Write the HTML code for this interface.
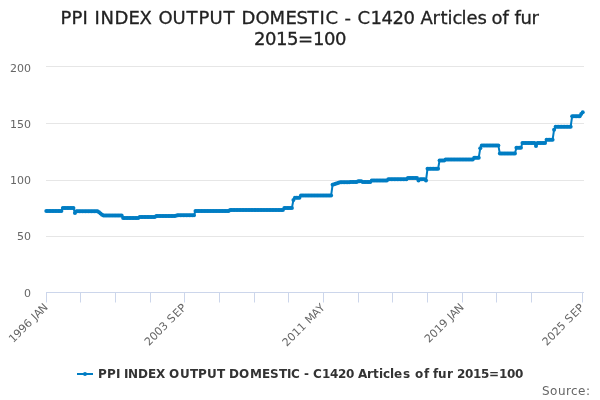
<!DOCTYPE html>
<html><head><meta charset="utf-8"><style>
html,body{margin:0;padding:0;background:#fff;}
svg{display:block;will-change:transform;font-family:"DejaVu Sans","Liberation Sans",sans-serif;}
</style></head><body>
<svg width="600" height="400" viewBox="0 0 600 400">
<rect width="600" height="400" fill="#ffffff"/>
<g stroke="#e6e6e6" stroke-width="1" fill="none"><path d="M 46 66.5 L 584 66.5"/><path d="M 46 123.5 L 584 123.5"/><path d="M 46 180.5 L 584 180.5"/><path d="M 46 236.5 L 584 236.5"/></g>
<g stroke="#ccd6eb" stroke-width="1" fill="none"><path d="M 46 292.5 L 584 292.5"/><path d="M 46.5 292.5 L 46.5 302.5"/><path d="M 80.5 292.5 L 80.5 302.5"/><path d="M 115.5 292.5 L 115.5 302.5"/><path d="M 150.5 292.5 L 150.5 302.5"/><path d="M 184.5 292.5 L 184.5 302.5"/><path d="M 219.5 292.5 L 219.5 302.5"/><path d="M 254.5 292.5 L 254.5 302.5"/><path d="M 288.5 292.5 L 288.5 302.5"/><path d="M 323.5 292.5 L 323.5 302.5"/><path d="M 358.5 292.5 L 358.5 302.5"/><path d="M 392.5 292.5 L 392.5 302.5"/><path d="M 427.5 292.5 L 427.5 302.5"/><path d="M 462.5 292.5 L 462.5 302.5"/><path d="M 496.5 292.5 L 496.5 302.5"/><path d="M 531.5 292.5 L 531.5 302.5"/><path d="M 582.5 292.5 L 582.5 302.5"/></g>
<g font-size="18" fill="#222222" stroke="#222222" stroke-width="0.3"><text x="60.5 71.5 82.5 88.5 94.5 100.5 114.5 128.5 139.5 152.5 158.5 172.5 186.5 198.5 209.5 223.5 235.5 241.5 255.5 269.5 285.5 296.5 307.5 319.5 325.5 338.5 344.5 351.5 357.5 370.5 381.5 392.5 403.5 414.5 420.5 432.5 440.5 447.5 452.5 461.5 466.5 477.5 485.5 491.5 502.5 508.5 514.5 520.5 531.5" y="24" >PPI INDEX OUTPUT DOMESTIC - C1420 Articles of fur</text><text x="254 265 276 287 298 313 324 335" y="45" >2015=100</text></g>
<g font-size="11" fill="#666666"><text x="24" y="297" >0</text><text x="17 24" y="240" >50</text><text x="10 17 24" y="184" >100</text><text x="10 17 24" y="128" >150</text><text x="10 17 24" y="72" >200</text></g>
<g font-size="11" fill="#666666"><text x="-50 -43 -36 -29 -22 -18 -15 -8" y="0" transform="translate(48.50 308.00) rotate(-45)">1996 JAN</text><text x="-54 -47 -40 -33 -26 -22 -14 -7" y="0" transform="translate(187.13 308.00) rotate(-45)">2003 SEP</text><text x="-55 -48 -41 -34 -27 -23 -14 -7" y="0" transform="translate(325.75 308.00) rotate(-45)">2011 MAY</text><text x="-50 -43 -36 -29 -22 -18 -15 -8" y="0" transform="translate(464.38 308.00) rotate(-45)">2019 JAN</text><text x="-54 -47 -40 -33 -26 -22 -14 -7" y="0" transform="translate(584.92 308.00) rotate(-45)">2025 SEP</text></g>
<path d="M 46.30 210.90 L 47.81 210.90 L 49.31 210.90 L 50.82 210.90 L 52.33 210.90 L 53.83 210.90 L 55.34 210.90 L 56.85 210.90 L 58.35 210.90 L 59.86 210.90 L 61.37 210.90 L 62.87 208.00 L 64.38 208.00 L 65.89 208.00 L 67.40 208.00 L 68.90 208.00 L 70.41 208.00 L 71.92 208.00 L 73.42 208.00 L 74.93 213.00 L 76.44 211.30 L 77.94 211.30 L 79.45 211.30 L 80.96 211.30 L 82.46 211.30 L 83.97 211.30 L 85.48 211.30 L 86.98 211.30 L 88.49 211.30 L 90.00 211.30 L 91.50 211.30 L 93.01 211.30 L 94.52 211.30 L 96.02 211.30 L 97.53 211.30 L 99.04 212.30 L 100.54 213.50 L 102.05 214.70 L 103.56 215.60 L 105.07 215.60 L 106.57 215.60 L 108.08 215.60 L 109.59 215.60 L 111.09 215.60 L 112.60 215.60 L 114.11 215.60 L 115.61 215.60 L 117.12 215.60 L 118.63 215.60 L 120.13 215.60 L 121.64 215.60 L 123.15 218.00 L 124.65 218.00 L 126.16 218.00 L 127.67 218.00 L 129.17 218.00 L 130.68 218.00 L 132.19 218.00 L 133.69 218.00 L 135.20 218.00 L 136.71 218.00 L 138.21 218.00 L 139.72 217.00 L 141.23 217.00 L 142.74 217.00 L 144.24 217.00 L 145.75 217.00 L 147.26 217.00 L 148.76 217.00 L 150.27 217.00 L 151.78 217.00 L 153.28 217.00 L 154.79 217.00 L 156.30 216.00 L 157.80 216.00 L 159.31 216.00 L 160.82 216.00 L 162.32 216.00 L 163.83 216.00 L 165.34 216.00 L 166.84 216.00 L 168.35 216.00 L 169.86 216.00 L 171.36 216.00 L 172.87 216.00 L 174.38 216.00 L 175.88 215.80 L 177.39 215.20 L 178.90 215.20 L 180.41 215.20 L 181.91 215.20 L 183.42 215.20 L 184.93 215.20 L 186.43 215.20 L 187.94 215.20 L 189.45 215.20 L 190.95 215.20 L 192.46 215.20 L 193.97 215.20 L 195.47 211.10 L 196.98 211.10 L 198.49 211.10 L 199.99 211.10 L 201.50 211.10 L 203.01 211.10 L 204.51 211.10 L 206.02 211.10 L 207.53 211.10 L 209.03 211.10 L 210.54 211.10 L 212.05 211.10 L 213.55 211.10 L 215.06 211.10 L 216.57 211.10 L 218.08 211.10 L 219.58 211.10 L 221.09 211.10 L 222.60 211.10 L 224.10 211.10 L 225.61 211.10 L 227.12 211.10 L 228.62 211.10 L 230.13 209.90 L 231.64 209.90 L 233.14 209.90 L 234.65 209.90 L 236.16 209.90 L 237.66 209.90 L 239.17 209.90 L 240.68 209.90 L 242.18 209.90 L 243.69 209.90 L 245.20 209.90 L 246.70 209.90 L 248.21 209.90 L 249.72 209.90 L 251.22 209.90 L 252.73 209.90 L 254.24 209.90 L 255.75 209.90 L 257.25 209.90 L 258.76 209.90 L 260.27 209.90 L 261.77 209.90 L 263.28 209.90 L 264.79 209.90 L 266.29 209.90 L 267.80 209.90 L 269.31 209.90 L 270.81 209.90 L 272.32 209.90 L 273.83 209.90 L 275.33 209.90 L 276.84 209.90 L 278.35 209.90 L 279.85 209.90 L 281.36 209.90 L 282.87 209.90 L 284.37 207.90 L 285.88 207.90 L 287.39 207.90 L 288.89 207.90 L 290.40 207.90 L 291.91 207.90 L 293.42 200.00 L 294.92 197.80 L 296.43 197.80 L 297.94 197.80 L 299.44 197.80 L 300.95 195.60 L 302.46 195.60 L 303.96 195.60 L 305.47 195.60 L 306.98 195.60 L 308.48 195.60 L 309.99 195.60 L 311.50 195.60 L 313.00 195.60 L 314.51 195.60 L 316.02 195.60 L 317.52 195.60 L 319.03 195.60 L 320.54 195.60 L 322.04 195.60 L 323.55 195.60 L 325.06 195.60 L 326.56 195.60 L 328.07 195.60 L 329.58 195.60 L 331.09 195.60 L 332.59 184.80 L 334.10 184.20 L 335.61 183.72 L 337.11 183.25 L 338.62 182.78 L 340.13 182.30 L 341.63 182.30 L 343.14 182.27 L 344.65 182.24 L 346.15 182.21 L 347.66 182.18 L 349.17 182.15 L 350.67 182.12 L 352.18 182.09 L 353.69 182.06 L 355.19 182.03 L 356.70 182.00 L 358.21 181.20 L 359.71 181.20 L 361.22 181.20 L 362.73 182.00 L 364.23 182.00 L 365.74 182.00 L 367.25 182.00 L 368.76 182.00 L 370.26 182.00 L 371.77 180.50 L 373.28 180.50 L 374.78 180.50 L 376.29 180.50 L 377.80 180.50 L 379.30 180.50 L 380.81 180.50 L 382.32 180.50 L 383.82 180.50 L 385.33 180.50 L 386.84 180.50 L 388.34 179.30 L 389.85 179.30 L 391.36 179.30 L 392.86 179.30 L 394.37 179.30 L 395.88 179.30 L 397.38 179.30 L 398.89 179.30 L 400.40 179.30 L 401.90 179.30 L 403.41 179.30 L 404.92 179.30 L 406.43 179.30 L 407.93 177.90 L 409.44 177.90 L 410.95 177.90 L 412.45 177.90 L 413.96 177.90 L 415.47 177.90 L 416.97 177.90 L 418.48 180.50 L 419.99 179.20 L 421.49 179.20 L 423.00 179.20 L 424.51 179.20 L 426.01 180.50 L 427.52 168.70 L 429.03 168.70 L 430.53 168.70 L 432.04 168.70 L 433.55 168.70 L 435.05 168.70 L 436.56 168.70 L 438.07 168.70 L 439.57 160.50 L 441.08 160.50 L 442.59 160.50 L 444.10 160.50 L 445.60 159.50 L 447.11 159.50 L 448.62 159.50 L 450.12 159.50 L 451.63 159.50 L 453.14 159.50 L 454.64 159.50 L 456.15 159.50 L 457.66 159.50 L 459.16 159.50 L 460.67 159.50 L 462.18 159.50 L 463.68 159.50 L 465.19 159.50 L 466.70 159.50 L 468.20 159.50 L 469.71 159.50 L 471.22 159.50 L 472.72 159.50 L 474.23 157.70 L 475.74 157.70 L 477.24 157.70 L 478.75 157.70 L 480.26 148.20 L 481.77 145.40 L 483.27 145.40 L 484.78 145.40 L 486.29 145.40 L 487.79 145.40 L 489.30 145.40 L 490.81 145.40 L 492.31 145.40 L 493.82 145.40 L 495.33 145.40 L 496.83 145.40 L 498.34 145.40 L 499.85 153.60 L 501.35 153.60 L 502.86 153.60 L 504.37 153.60 L 505.87 153.60 L 507.38 153.60 L 508.89 153.60 L 510.39 153.60 L 511.90 153.60 L 513.41 153.60 L 514.91 153.60 L 516.42 147.80 L 517.93 147.80 L 519.44 147.80 L 520.94 147.80 L 522.45 142.90 L 523.96 142.90 L 525.46 142.90 L 526.97 142.90 L 528.48 142.90 L 529.98 142.90 L 531.49 142.90 L 533.00 142.90 L 534.50 142.90 L 536.01 146.10 L 537.52 142.90 L 539.02 142.90 L 540.53 142.90 L 542.04 142.90 L 543.54 142.90 L 545.05 142.90 L 546.56 139.80 L 548.06 139.80 L 549.57 139.80 L 551.08 139.80 L 552.58 139.80 L 554.09 129.70 L 555.60 126.70 L 557.11 126.70 L 558.61 126.70 L 560.12 126.70 L 561.63 126.70 L 563.13 126.70 L 564.64 126.70 L 566.15 126.70 L 567.65 126.70 L 569.16 126.70 L 570.67 126.70 L 572.17 116.20 L 573.68 116.20 L 575.19 116.20 L 576.69 116.20 L 578.20 116.20 L 579.71 116.20 L 581.21 114.00 L 582.72 112.20" fill="none" stroke="#007dc3" stroke-width="2" stroke-linejoin="round" stroke-linecap="round"/>
<g fill="#007dc3"><circle cx="46.30" cy="210.90" r="2.0"/><circle cx="47.81" cy="210.90" r="2.0"/><circle cx="49.31" cy="210.90" r="2.0"/><circle cx="50.82" cy="210.90" r="2.0"/><circle cx="52.33" cy="210.90" r="2.0"/><circle cx="53.83" cy="210.90" r="2.0"/><circle cx="55.34" cy="210.90" r="2.0"/><circle cx="56.85" cy="210.90" r="2.0"/><circle cx="58.35" cy="210.90" r="2.0"/><circle cx="59.86" cy="210.90" r="2.0"/><circle cx="61.37" cy="210.90" r="2.0"/><circle cx="62.87" cy="208.00" r="2.0"/><circle cx="64.38" cy="208.00" r="2.0"/><circle cx="65.89" cy="208.00" r="2.0"/><circle cx="67.40" cy="208.00" r="2.0"/><circle cx="68.90" cy="208.00" r="2.0"/><circle cx="70.41" cy="208.00" r="2.0"/><circle cx="71.92" cy="208.00" r="2.0"/><circle cx="73.42" cy="208.00" r="2.0"/><circle cx="74.93" cy="213.00" r="2.0"/><circle cx="76.44" cy="211.30" r="2.0"/><circle cx="77.94" cy="211.30" r="2.0"/><circle cx="79.45" cy="211.30" r="2.0"/><circle cx="80.96" cy="211.30" r="2.0"/><circle cx="82.46" cy="211.30" r="2.0"/><circle cx="83.97" cy="211.30" r="2.0"/><circle cx="85.48" cy="211.30" r="2.0"/><circle cx="86.98" cy="211.30" r="2.0"/><circle cx="88.49" cy="211.30" r="2.0"/><circle cx="90.00" cy="211.30" r="2.0"/><circle cx="91.50" cy="211.30" r="2.0"/><circle cx="93.01" cy="211.30" r="2.0"/><circle cx="94.52" cy="211.30" r="2.0"/><circle cx="96.02" cy="211.30" r="2.0"/><circle cx="97.53" cy="211.30" r="2.0"/><circle cx="99.04" cy="212.30" r="2.0"/><circle cx="100.54" cy="213.50" r="2.0"/><circle cx="102.05" cy="214.70" r="2.0"/><circle cx="103.56" cy="215.60" r="2.0"/><circle cx="105.07" cy="215.60" r="2.0"/><circle cx="106.57" cy="215.60" r="2.0"/><circle cx="108.08" cy="215.60" r="2.0"/><circle cx="109.59" cy="215.60" r="2.0"/><circle cx="111.09" cy="215.60" r="2.0"/><circle cx="112.60" cy="215.60" r="2.0"/><circle cx="114.11" cy="215.60" r="2.0"/><circle cx="115.61" cy="215.60" r="2.0"/><circle cx="117.12" cy="215.60" r="2.0"/><circle cx="118.63" cy="215.60" r="2.0"/><circle cx="120.13" cy="215.60" r="2.0"/><circle cx="121.64" cy="215.60" r="2.0"/><circle cx="123.15" cy="218.00" r="2.0"/><circle cx="124.65" cy="218.00" r="2.0"/><circle cx="126.16" cy="218.00" r="2.0"/><circle cx="127.67" cy="218.00" r="2.0"/><circle cx="129.17" cy="218.00" r="2.0"/><circle cx="130.68" cy="218.00" r="2.0"/><circle cx="132.19" cy="218.00" r="2.0"/><circle cx="133.69" cy="218.00" r="2.0"/><circle cx="135.20" cy="218.00" r="2.0"/><circle cx="136.71" cy="218.00" r="2.0"/><circle cx="138.21" cy="218.00" r="2.0"/><circle cx="139.72" cy="217.00" r="2.0"/><circle cx="141.23" cy="217.00" r="2.0"/><circle cx="142.74" cy="217.00" r="2.0"/><circle cx="144.24" cy="217.00" r="2.0"/><circle cx="145.75" cy="217.00" r="2.0"/><circle cx="147.26" cy="217.00" r="2.0"/><circle cx="148.76" cy="217.00" r="2.0"/><circle cx="150.27" cy="217.00" r="2.0"/><circle cx="151.78" cy="217.00" r="2.0"/><circle cx="153.28" cy="217.00" r="2.0"/><circle cx="154.79" cy="217.00" r="2.0"/><circle cx="156.30" cy="216.00" r="2.0"/><circle cx="157.80" cy="216.00" r="2.0"/><circle cx="159.31" cy="216.00" r="2.0"/><circle cx="160.82" cy="216.00" r="2.0"/><circle cx="162.32" cy="216.00" r="2.0"/><circle cx="163.83" cy="216.00" r="2.0"/><circle cx="165.34" cy="216.00" r="2.0"/><circle cx="166.84" cy="216.00" r="2.0"/><circle cx="168.35" cy="216.00" r="2.0"/><circle cx="169.86" cy="216.00" r="2.0"/><circle cx="171.36" cy="216.00" r="2.0"/><circle cx="172.87" cy="216.00" r="2.0"/><circle cx="174.38" cy="216.00" r="2.0"/><circle cx="175.88" cy="215.80" r="2.0"/><circle cx="177.39" cy="215.20" r="2.0"/><circle cx="178.90" cy="215.20" r="2.0"/><circle cx="180.41" cy="215.20" r="2.0"/><circle cx="181.91" cy="215.20" r="2.0"/><circle cx="183.42" cy="215.20" r="2.0"/><circle cx="184.93" cy="215.20" r="2.0"/><circle cx="186.43" cy="215.20" r="2.0"/><circle cx="187.94" cy="215.20" r="2.0"/><circle cx="189.45" cy="215.20" r="2.0"/><circle cx="190.95" cy="215.20" r="2.0"/><circle cx="192.46" cy="215.20" r="2.0"/><circle cx="193.97" cy="215.20" r="2.0"/><circle cx="195.47" cy="211.10" r="2.0"/><circle cx="196.98" cy="211.10" r="2.0"/><circle cx="198.49" cy="211.10" r="2.0"/><circle cx="199.99" cy="211.10" r="2.0"/><circle cx="201.50" cy="211.10" r="2.0"/><circle cx="203.01" cy="211.10" r="2.0"/><circle cx="204.51" cy="211.10" r="2.0"/><circle cx="206.02" cy="211.10" r="2.0"/><circle cx="207.53" cy="211.10" r="2.0"/><circle cx="209.03" cy="211.10" r="2.0"/><circle cx="210.54" cy="211.10" r="2.0"/><circle cx="212.05" cy="211.10" r="2.0"/><circle cx="213.55" cy="211.10" r="2.0"/><circle cx="215.06" cy="211.10" r="2.0"/><circle cx="216.57" cy="211.10" r="2.0"/><circle cx="218.08" cy="211.10" r="2.0"/><circle cx="219.58" cy="211.10" r="2.0"/><circle cx="221.09" cy="211.10" r="2.0"/><circle cx="222.60" cy="211.10" r="2.0"/><circle cx="224.10" cy="211.10" r="2.0"/><circle cx="225.61" cy="211.10" r="2.0"/><circle cx="227.12" cy="211.10" r="2.0"/><circle cx="228.62" cy="211.10" r="2.0"/><circle cx="230.13" cy="209.90" r="2.0"/><circle cx="231.64" cy="209.90" r="2.0"/><circle cx="233.14" cy="209.90" r="2.0"/><circle cx="234.65" cy="209.90" r="2.0"/><circle cx="236.16" cy="209.90" r="2.0"/><circle cx="237.66" cy="209.90" r="2.0"/><circle cx="239.17" cy="209.90" r="2.0"/><circle cx="240.68" cy="209.90" r="2.0"/><circle cx="242.18" cy="209.90" r="2.0"/><circle cx="243.69" cy="209.90" r="2.0"/><circle cx="245.20" cy="209.90" r="2.0"/><circle cx="246.70" cy="209.90" r="2.0"/><circle cx="248.21" cy="209.90" r="2.0"/><circle cx="249.72" cy="209.90" r="2.0"/><circle cx="251.22" cy="209.90" r="2.0"/><circle cx="252.73" cy="209.90" r="2.0"/><circle cx="254.24" cy="209.90" r="2.0"/><circle cx="255.75" cy="209.90" r="2.0"/><circle cx="257.25" cy="209.90" r="2.0"/><circle cx="258.76" cy="209.90" r="2.0"/><circle cx="260.27" cy="209.90" r="2.0"/><circle cx="261.77" cy="209.90" r="2.0"/><circle cx="263.28" cy="209.90" r="2.0"/><circle cx="264.79" cy="209.90" r="2.0"/><circle cx="266.29" cy="209.90" r="2.0"/><circle cx="267.80" cy="209.90" r="2.0"/><circle cx="269.31" cy="209.90" r="2.0"/><circle cx="270.81" cy="209.90" r="2.0"/><circle cx="272.32" cy="209.90" r="2.0"/><circle cx="273.83" cy="209.90" r="2.0"/><circle cx="275.33" cy="209.90" r="2.0"/><circle cx="276.84" cy="209.90" r="2.0"/><circle cx="278.35" cy="209.90" r="2.0"/><circle cx="279.85" cy="209.90" r="2.0"/><circle cx="281.36" cy="209.90" r="2.0"/><circle cx="282.87" cy="209.90" r="2.0"/><circle cx="284.37" cy="207.90" r="2.0"/><circle cx="285.88" cy="207.90" r="2.0"/><circle cx="287.39" cy="207.90" r="2.0"/><circle cx="288.89" cy="207.90" r="2.0"/><circle cx="290.40" cy="207.90" r="2.0"/><circle cx="291.91" cy="207.90" r="2.0"/><circle cx="293.42" cy="200.00" r="2.0"/><circle cx="294.92" cy="197.80" r="2.0"/><circle cx="296.43" cy="197.80" r="2.0"/><circle cx="297.94" cy="197.80" r="2.0"/><circle cx="299.44" cy="197.80" r="2.0"/><circle cx="300.95" cy="195.60" r="2.0"/><circle cx="302.46" cy="195.60" r="2.0"/><circle cx="303.96" cy="195.60" r="2.0"/><circle cx="305.47" cy="195.60" r="2.0"/><circle cx="306.98" cy="195.60" r="2.0"/><circle cx="308.48" cy="195.60" r="2.0"/><circle cx="309.99" cy="195.60" r="2.0"/><circle cx="311.50" cy="195.60" r="2.0"/><circle cx="313.00" cy="195.60" r="2.0"/><circle cx="314.51" cy="195.60" r="2.0"/><circle cx="316.02" cy="195.60" r="2.0"/><circle cx="317.52" cy="195.60" r="2.0"/><circle cx="319.03" cy="195.60" r="2.0"/><circle cx="320.54" cy="195.60" r="2.0"/><circle cx="322.04" cy="195.60" r="2.0"/><circle cx="323.55" cy="195.60" r="2.0"/><circle cx="325.06" cy="195.60" r="2.0"/><circle cx="326.56" cy="195.60" r="2.0"/><circle cx="328.07" cy="195.60" r="2.0"/><circle cx="329.58" cy="195.60" r="2.0"/><circle cx="331.09" cy="195.60" r="2.0"/><circle cx="332.59" cy="184.80" r="2.0"/><circle cx="334.10" cy="184.20" r="2.0"/><circle cx="335.61" cy="183.72" r="2.0"/><circle cx="337.11" cy="183.25" r="2.0"/><circle cx="338.62" cy="182.78" r="2.0"/><circle cx="340.13" cy="182.30" r="2.0"/><circle cx="341.63" cy="182.30" r="2.0"/><circle cx="343.14" cy="182.27" r="2.0"/><circle cx="344.65" cy="182.24" r="2.0"/><circle cx="346.15" cy="182.21" r="2.0"/><circle cx="347.66" cy="182.18" r="2.0"/><circle cx="349.17" cy="182.15" r="2.0"/><circle cx="350.67" cy="182.12" r="2.0"/><circle cx="352.18" cy="182.09" r="2.0"/><circle cx="353.69" cy="182.06" r="2.0"/><circle cx="355.19" cy="182.03" r="2.0"/><circle cx="356.70" cy="182.00" r="2.0"/><circle cx="358.21" cy="181.20" r="2.0"/><circle cx="359.71" cy="181.20" r="2.0"/><circle cx="361.22" cy="181.20" r="2.0"/><circle cx="362.73" cy="182.00" r="2.0"/><circle cx="364.23" cy="182.00" r="2.0"/><circle cx="365.74" cy="182.00" r="2.0"/><circle cx="367.25" cy="182.00" r="2.0"/><circle cx="368.76" cy="182.00" r="2.0"/><circle cx="370.26" cy="182.00" r="2.0"/><circle cx="371.77" cy="180.50" r="2.0"/><circle cx="373.28" cy="180.50" r="2.0"/><circle cx="374.78" cy="180.50" r="2.0"/><circle cx="376.29" cy="180.50" r="2.0"/><circle cx="377.80" cy="180.50" r="2.0"/><circle cx="379.30" cy="180.50" r="2.0"/><circle cx="380.81" cy="180.50" r="2.0"/><circle cx="382.32" cy="180.50" r="2.0"/><circle cx="383.82" cy="180.50" r="2.0"/><circle cx="385.33" cy="180.50" r="2.0"/><circle cx="386.84" cy="180.50" r="2.0"/><circle cx="388.34" cy="179.30" r="2.0"/><circle cx="389.85" cy="179.30" r="2.0"/><circle cx="391.36" cy="179.30" r="2.0"/><circle cx="392.86" cy="179.30" r="2.0"/><circle cx="394.37" cy="179.30" r="2.0"/><circle cx="395.88" cy="179.30" r="2.0"/><circle cx="397.38" cy="179.30" r="2.0"/><circle cx="398.89" cy="179.30" r="2.0"/><circle cx="400.40" cy="179.30" r="2.0"/><circle cx="401.90" cy="179.30" r="2.0"/><circle cx="403.41" cy="179.30" r="2.0"/><circle cx="404.92" cy="179.30" r="2.0"/><circle cx="406.43" cy="179.30" r="2.0"/><circle cx="407.93" cy="177.90" r="2.0"/><circle cx="409.44" cy="177.90" r="2.0"/><circle cx="410.95" cy="177.90" r="2.0"/><circle cx="412.45" cy="177.90" r="2.0"/><circle cx="413.96" cy="177.90" r="2.0"/><circle cx="415.47" cy="177.90" r="2.0"/><circle cx="416.97" cy="177.90" r="2.0"/><circle cx="418.48" cy="180.50" r="2.0"/><circle cx="419.99" cy="179.20" r="2.0"/><circle cx="421.49" cy="179.20" r="2.0"/><circle cx="423.00" cy="179.20" r="2.0"/><circle cx="424.51" cy="179.20" r="2.0"/><circle cx="426.01" cy="180.50" r="2.0"/><circle cx="427.52" cy="168.70" r="2.0"/><circle cx="429.03" cy="168.70" r="2.0"/><circle cx="430.53" cy="168.70" r="2.0"/><circle cx="432.04" cy="168.70" r="2.0"/><circle cx="433.55" cy="168.70" r="2.0"/><circle cx="435.05" cy="168.70" r="2.0"/><circle cx="436.56" cy="168.70" r="2.0"/><circle cx="438.07" cy="168.70" r="2.0"/><circle cx="439.57" cy="160.50" r="2.0"/><circle cx="441.08" cy="160.50" r="2.0"/><circle cx="442.59" cy="160.50" r="2.0"/><circle cx="444.10" cy="160.50" r="2.0"/><circle cx="445.60" cy="159.50" r="2.0"/><circle cx="447.11" cy="159.50" r="2.0"/><circle cx="448.62" cy="159.50" r="2.0"/><circle cx="450.12" cy="159.50" r="2.0"/><circle cx="451.63" cy="159.50" r="2.0"/><circle cx="453.14" cy="159.50" r="2.0"/><circle cx="454.64" cy="159.50" r="2.0"/><circle cx="456.15" cy="159.50" r="2.0"/><circle cx="457.66" cy="159.50" r="2.0"/><circle cx="459.16" cy="159.50" r="2.0"/><circle cx="460.67" cy="159.50" r="2.0"/><circle cx="462.18" cy="159.50" r="2.0"/><circle cx="463.68" cy="159.50" r="2.0"/><circle cx="465.19" cy="159.50" r="2.0"/><circle cx="466.70" cy="159.50" r="2.0"/><circle cx="468.20" cy="159.50" r="2.0"/><circle cx="469.71" cy="159.50" r="2.0"/><circle cx="471.22" cy="159.50" r="2.0"/><circle cx="472.72" cy="159.50" r="2.0"/><circle cx="474.23" cy="157.70" r="2.0"/><circle cx="475.74" cy="157.70" r="2.0"/><circle cx="477.24" cy="157.70" r="2.0"/><circle cx="478.75" cy="157.70" r="2.0"/><circle cx="480.26" cy="148.20" r="2.0"/><circle cx="481.77" cy="145.40" r="2.0"/><circle cx="483.27" cy="145.40" r="2.0"/><circle cx="484.78" cy="145.40" r="2.0"/><circle cx="486.29" cy="145.40" r="2.0"/><circle cx="487.79" cy="145.40" r="2.0"/><circle cx="489.30" cy="145.40" r="2.0"/><circle cx="490.81" cy="145.40" r="2.0"/><circle cx="492.31" cy="145.40" r="2.0"/><circle cx="493.82" cy="145.40" r="2.0"/><circle cx="495.33" cy="145.40" r="2.0"/><circle cx="496.83" cy="145.40" r="2.0"/><circle cx="498.34" cy="145.40" r="2.0"/><circle cx="499.85" cy="153.60" r="2.0"/><circle cx="501.35" cy="153.60" r="2.0"/><circle cx="502.86" cy="153.60" r="2.0"/><circle cx="504.37" cy="153.60" r="2.0"/><circle cx="505.87" cy="153.60" r="2.0"/><circle cx="507.38" cy="153.60" r="2.0"/><circle cx="508.89" cy="153.60" r="2.0"/><circle cx="510.39" cy="153.60" r="2.0"/><circle cx="511.90" cy="153.60" r="2.0"/><circle cx="513.41" cy="153.60" r="2.0"/><circle cx="514.91" cy="153.60" r="2.0"/><circle cx="516.42" cy="147.80" r="2.0"/><circle cx="517.93" cy="147.80" r="2.0"/><circle cx="519.44" cy="147.80" r="2.0"/><circle cx="520.94" cy="147.80" r="2.0"/><circle cx="522.45" cy="142.90" r="2.0"/><circle cx="523.96" cy="142.90" r="2.0"/><circle cx="525.46" cy="142.90" r="2.0"/><circle cx="526.97" cy="142.90" r="2.0"/><circle cx="528.48" cy="142.90" r="2.0"/><circle cx="529.98" cy="142.90" r="2.0"/><circle cx="531.49" cy="142.90" r="2.0"/><circle cx="533.00" cy="142.90" r="2.0"/><circle cx="534.50" cy="142.90" r="2.0"/><circle cx="536.01" cy="146.10" r="2.0"/><circle cx="537.52" cy="142.90" r="2.0"/><circle cx="539.02" cy="142.90" r="2.0"/><circle cx="540.53" cy="142.90" r="2.0"/><circle cx="542.04" cy="142.90" r="2.0"/><circle cx="543.54" cy="142.90" r="2.0"/><circle cx="545.05" cy="142.90" r="2.0"/><circle cx="546.56" cy="139.80" r="2.0"/><circle cx="548.06" cy="139.80" r="2.0"/><circle cx="549.57" cy="139.80" r="2.0"/><circle cx="551.08" cy="139.80" r="2.0"/><circle cx="552.58" cy="139.80" r="2.0"/><circle cx="554.09" cy="129.70" r="2.0"/><circle cx="555.60" cy="126.70" r="2.0"/><circle cx="557.11" cy="126.70" r="2.0"/><circle cx="558.61" cy="126.70" r="2.0"/><circle cx="560.12" cy="126.70" r="2.0"/><circle cx="561.63" cy="126.70" r="2.0"/><circle cx="563.13" cy="126.70" r="2.0"/><circle cx="564.64" cy="126.70" r="2.0"/><circle cx="566.15" cy="126.70" r="2.0"/><circle cx="567.65" cy="126.70" r="2.0"/><circle cx="569.16" cy="126.70" r="2.0"/><circle cx="570.67" cy="126.70" r="2.0"/><circle cx="572.17" cy="116.20" r="2.0"/><circle cx="573.68" cy="116.20" r="2.0"/><circle cx="575.19" cy="116.20" r="2.0"/><circle cx="576.69" cy="116.20" r="2.0"/><circle cx="578.20" cy="116.20" r="2.0"/><circle cx="579.71" cy="116.20" r="2.0"/><circle cx="581.21" cy="114.00" r="2.0"/><circle cx="582.72" cy="112.20" r="2.0"/></g>
<path d="M 77 374 L 93 374" stroke="#007dc3" stroke-width="2" fill="none"/>
<circle cx="85" cy="374" r="2" fill="#007dc3"/>
<g font-size="12" font-weight="bold" fill="#333333"><text x="98 107 116 120 124 128 138 148 156 165 169 180 190 198 207 217 225 229 239 250 262 270 279 287 291 300 304 309 313 322 330 338 346 354 358 367 373 379 383 390 394 403 411 415 424 429 433 438 447 453 457 465 473 481 489 499 507 515" y="378" >PPI INDEX OUTPUT DOMESTIC - C1420 Articles of fur 2015=100</text></g>
<g font-size="12" fill="#666666"><text x="542 550 558 566 571 578 586" y="394.5" >Source:</text></g>
</svg>
</body></html>
